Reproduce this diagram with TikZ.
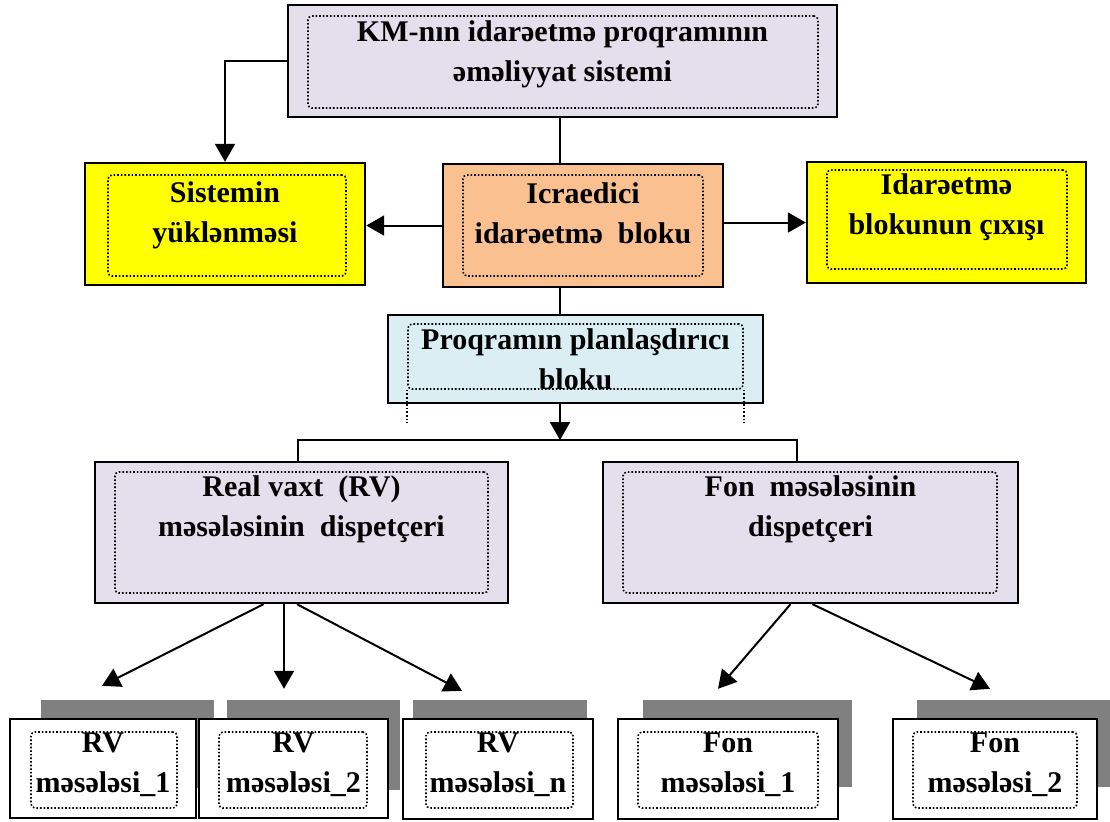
\documentclass[tikz,border=0pt]{standalone}
\usepackage{xcolor}
\usepackage{fontspec}
\setmainfont{Liberation Serif}
\usepackage{tikz}
\usetikzlibrary{positioning,calc,arrows.meta}
\definecolor{lila}{HTML}{E4DFEC}
\definecolor{narinci}{HTML}{FAC090}
\definecolor{sari}{HTML}{FFFF00}
\definecolor{mavi}{HTML}{DAEEF3}
\definecolor{boz}{HTML}{808080}

\begin{document}
\begin{tikzpicture}[
        x=0.5pt, y=-0.5pt,
        blok/.style={
            rectangle,
            draw=black,
            line width=1.2pt,
            inner sep=0pt,
            anchor=center
        },
        ramka/.style={
            rectangle,
            draw=black,
            densely dotted,
            line width=0.8pt,
            rounded corners=2pt,
            inner sep=0pt
        },
        kolge/.style={
            rectangle,
            fill=boz,
            inner sep=0pt
        },
        yazi/.style={
            align=center,
            inner sep=0pt,
            font=\bfseries\fontsize{15pt}{20pt}\selectfont
        },
        line/.style={
            line width=1pt
        },
        arrow/.style={
            -{Triangle[length=9pt,width=10pt]},
            line width=1pt
        }
    ]
        \useasboundingbox (0,0) rectangle (1110,821);

        % Top row
        \node[blok, fill=lila, minimum width=274.5pt, minimum height=56pt] (km) at (562.5,61) {};
        \node[ramka, minimum width=255pt, minimum height=46pt] (kmin) at (563,62) {};
        \node[yazi, below=8pt of km.north] (kmt) {KM-nın idarəetmə proqramının\\əməliyyat sistemi};

        % Second row
        \node[blok, fill=sari, minimum width=140pt, minimum height=61pt] (yukl) at (225,224) {};
        \node[ramka, minimum width=119pt, minimum height=50.5pt] (yuklin) at (227,225.5) {};
        \node[yazi, below=9.5pt of yukl.north] (yuklt) {Sistemin\\yüklənməsi};

        \node[blok, fill=narinci, minimum width=140pt, minimum height=61.5pt] (icra) at (583,225.5) {};
        \node[ramka, minimum width=120pt, minimum height=50.5pt] (icrain) at (583,225.5) {};
        \node[yazi, below=9.5pt of icra.north] (icrat) {Icraedici\\idarəetmə\ \ bloku};

        \node[blok, fill=sari, minimum width=139.5pt, minimum height=60.5pt] (cixis) at (946.5,222.5) {};
        \node[ramka, minimum width=120pt, minimum height=49.5pt] (cixisin) at (947,219.5) {};
        \node[yazi, below=6pt of cixis.north] (cixist) {Idarəetmə\\blokunun çıxışı};

        % Planner
        \node[blok, fill=mavi, minimum width=187.5pt, minimum height=44pt] (plan) at (575.5,359) {};
        \node[ramka, minimum width=167.5pt, minimum height=32.5pt] (planin) at (575.5,356.5) {};
        \draw[line width=0.8pt, densely dotted] (planin.south west) -- ++(0,33);
        \draw[line width=0.8pt, densely dotted] (planin.south east) -- ++(0,33);
        \node[yazi, below=7pt of plan.north] (plant) {Proqramın planlaşdırıcı\\bloku};

        % Dispatchers
        \node[blok, fill=lila, minimum width=206.5pt, minimum height=70.5pt] (rvd) at (301.5,532.5) {};
        \node[ramka, minimum width=186.5pt, minimum height=60.5pt] (rvdin) at (301.5,532.5) {};
        \node[yazi, below=7pt of rvd.north] (rvdt) {Real vaxt\ \ (RV)\\məsələsinin\ \ dispetçeri};

        \node[blok, fill=lila, minimum width=207.5pt, minimum height=70.5pt] (fond) at (810.5,532.5) {};
        \node[ramka, minimum width=187pt, minimum height=60.5pt] (fondin) at (810,532.5) {};
        \node[yazi, below=7pt of fond.north] (fondt) {Fon\ \ məsələsinin\\dispetçeri};

        % Shadows of the tasks
        \node[kolge, minimum width=86.5pt, minimum height=44pt] (rv1k) at (127.5,744) {};
        \node[kolge, minimum width=86.5pt, minimum height=45pt] (rv2k) at (313.5,745) {};
        \node[kolge, minimum width=87pt, minimum height=45pt] (rvnk) at (500,745) {};
        \node[kolge, minimum width=104.5pt, minimum height=43.5pt] (fon1k) at (747.5,743.5) {};
        \node[kolge, minimum width=96.5pt, minimum height=43.5pt] (fon2k) at (1013.5,743.5) {};

        % Tasks
        \node[blok, fill=white, minimum width=93pt, minimum height=49.5pt] (rv1) at (103,768.5) {};
        \node[ramka, minimum width=73pt, minimum height=38pt] (rv1in) at (104,770) {};
        \node[yazi, below=7.5pt of rv1.north] (rv1t) {RV\\məsələsi\_1};

        \node[blok, fill=white, minimum width=94.5pt, minimum height=49.5pt] (rv2) at (293.5,768.5) {};
        \node[ramka, minimum width=74pt, minimum height=38pt] (rv2in) at (293,770) {};
        \node[yazi, below=7.5pt of rv2.north] (rv2t) {RV\\məsələsi\_2};

        \node[blok, fill=white, minimum width=95pt, minimum height=50pt] (rvn) at (498,769) {};
        \node[ramka, minimum width=73.5pt, minimum height=38pt] (rvnin) at (499.5,770) {};
        \node[yazi, below=7.5pt of rvn.north] (rvnt) {RV\\məsələsi\_n};

        \node[blok, fill=white, minimum width=110pt, minimum height=50pt] (fon1) at (728,769) {};
        \node[ramka, minimum width=90pt, minimum height=38pt] (fon1in) at (728,770) {};
        \node[yazi, below=7.5pt of fon1.north] (fon1t) {Fon\\məsələsi\_1};

        \node[blok, fill=white, minimum width=102pt, minimum height=50pt] (fon2) at (995,769) {};
        \node[ramka, minimum width=82pt, minimum height=38pt] (fon2in) at (995,770) {};
        \node[yazi, below=7.5pt of fon2.north] (fon2t) {Fon\\məsələsi\_2};

        % Edges top part
        \coordinate (spine) at (560,0);
        \coordinate (bus) at (560,440);
        \coordinate (busl) at (298,440);
        \coordinate (busr) at (797,440);
        \draw[arrow] (km.west) -| (yukl.north);
        \draw[line] (km.south -| spine) -- (icra.north -| spine);
        \draw[arrow] (icra.west) -- (icra.west -| yukl.east);
        \draw[arrow] (icra.east |- cixis.west) -- (cixis.west);
        \draw[line] (icra.south -| spine) -- (plan.north -| spine);
        \draw[arrow] (plan.south -| spine) -- (bus);
        \draw[line] (busl |- rvd.north) |- (busr) -- (busr |- fond.north);

        % Edges to the tasks
        \draw[arrow] ($(rvd.south)+(-38,0)$) -- ($(rv1.north)+(-1,-32)$);
        \draw[arrow] ($(rvd.south)+(-17.5,0)$) -- ($(rv2.north)+(-9.5,-29)$);
        \draw[arrow] ($(rvd.south)+(-4.5,0)$) -- ($(rvn.north)+(-36,-27)$);
        \draw[arrow] ($(fond.south)+(-20,0)$) -- ($(fon1.north)+(-10,-29)$);
        \draw[arrow] ($(fond.south)+(2,0)$) -- ($(fon2.north)+(-5,-29)$);

    \end{tikzpicture}
\end{document}
